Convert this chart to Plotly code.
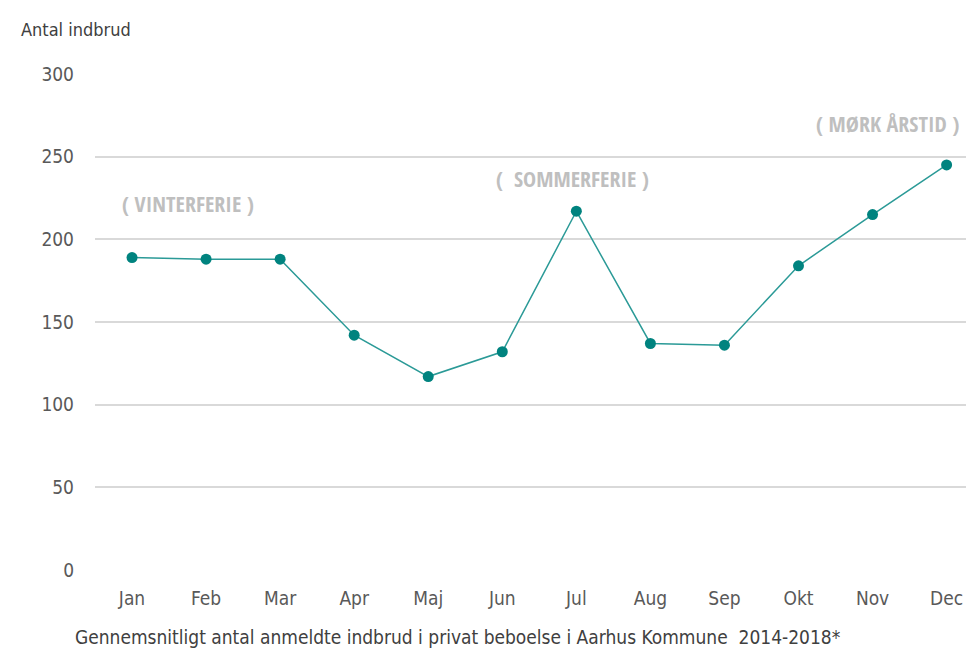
import plotly.graph_objects as go

months = ["Jan", "Feb", "Mar", "Apr", "Maj", "Jun", "Jul", "Aug", "Sep", "Okt", "Nov", "Dec"]
values = [189, 188, 188, 142, 117, 132, 217, 137, 136, 184, 215, 245]
y_ticks = [0, 50, 100, 150, 200, 250, 300]

notes = [
    ("( VINTERFERIE )", 0.75, 222),
    ("(  SOMMERFERIE )", 5.95, 237),
    ("( MØRK ÅRSTID )", 10.2, 270.5),
]

BOLD = "Open Sans Condensed, Open Sans, sans-serif"
FONT = "DejaVu Sans Condensed, Open Sans, sans-serif"

fig = go.Figure()
fig.add_trace(go.Scatter(
    x=list(range(len(months))), y=values, mode="lines+markers",
    line=dict(color="#2b9a97", width=1.5),
    marker=dict(color="#00837f", size=11),
    cliponaxis=False, showlegend=False,
))

for text, xv, yv in notes:
    fig.add_annotation(x=xv, y=yv, text=f"<b>{text}</b>", showarrow=False,
                       font=dict(family=BOLD, size=22, color="#bfbfbf", weight="bold"))

tf = dict(family=FONT, size=19, color="#595959")
fig.update_layout(
    width=966, height=644,
    margin=dict(l=87, r=0, t=66, b=82),
    paper_bgcolor="white", plot_bgcolor="white",
    font=dict(family=FONT, color="#595959"),
    xaxis=dict(range=[-0.5, 11.37], tickmode="array", tickvals=list(range(12)),
               ticktext=months, showgrid=False, zeroline=False, showline=False,
               ticks="", tickfont=tf, ticklabelstandoff=15),
    yaxis=dict(range=[0, 300], tickvals=y_ticks, showgrid=True, gridcolor="#d9d9d9",
               gridwidth=1.5, zeroline=False, showline=False, ticks="",
               tickfont=tf, ticklabelstandoff=20),
)
fig.add_annotation(xref="paper", yref="paper", x=-0.086, y=1.0, xanchor="left", yanchor="bottom",
                   yshift=32, text="Antal indbrud", showarrow=False,
                   font=dict(family=FONT, size=18, color="#404040"))
fig.add_annotation(xref="paper", yref="paper", x=-0.025, y=0, xanchor="left", yanchor="top",
                   yshift=-54, text="Gennemsnitligt antal anmeldte indbrud i privat beboelse i Aarhus Kommune  2014-2018*",
                   showarrow=False, font=dict(family=FONT, size=19, color="#404040"))

fig.write_html("out.html")
